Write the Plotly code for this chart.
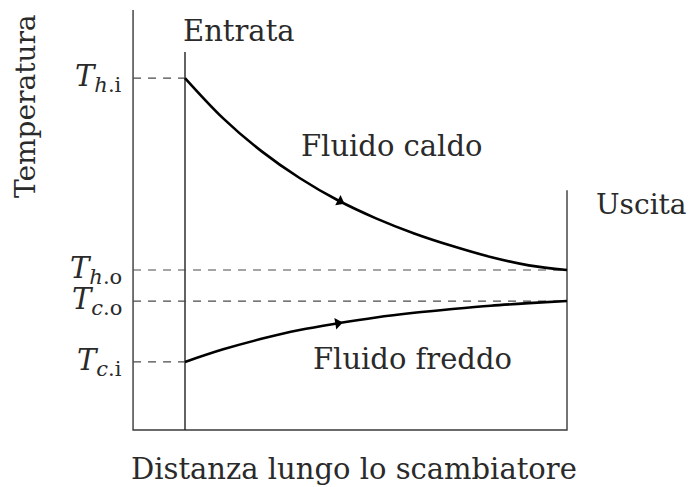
import numpy as np
import plotly.graph_objects as go

# ---- data (arbitrary temperature units) ----
dist = [0.0, 0.1, 0.2, 0.3, 0.4, 0.5, 0.6, 0.7, 0.8, 0.9, 1.0]
T_hot = [83.8, 74.2, 66.4, 60.0, 54.7, 50.4, 46.8, 43.8, 41.2, 39.2, 38.1]
T_cold = [16.2, 19.2, 21.7, 23.8, 25.4, 26.8, 27.9, 28.8, 29.6, 30.2, 30.7]
T_levels = {"Th_i": 83.8, "Th_o": 38.1, "Tc_o": 30.7, "Tc_i": 16.2}
level_labels = ["<i>T</i><sub><i>h</i>.i</sub>", "<i>T</i><sub><i>h</i>.o</sub>",
                "<i>T</i><sub><i>c</i>.o</sub>", "<i>T</i><sub><i>c</i>.i</sub>"]
arrow_pos = [0.406, 0.40]   # position of direction arrows along the exchanger
x_axis_start = -0.136        # temperature axis position
T_axis_top = 100.0
T_entrata_top = 90.0
T_uscita_top = 57.1

# ---- pixel mapping (page pixels; body margin removed below) ----
OFF = 0
W, H = 691, 487
PX_X0, PX_PER_X = 185.0, 382.0     # page pixel of dist=0, pixels per unit dist
PY_T0, PY_PER_T = 430.0, 4.2       # page pixel of T=0, pixels per unit T

def xp(px):
    return (px - PX_X0) / PX_PER_X

def yp(py):
    return (PY_T0 - py) / PY_PER_T

xr = [xp(OFF), xp(OFF + W)]
yr = [yp(OFF + H), yp(OFF)]

FONT = "DejaVu Serif"
FS = 29
TXT = "#2a2a2a"
fig = go.Figure()

# frame lines
frame = "#3a3a3a"
fig.add_trace(go.Scatter(x=[x_axis_start, x_axis_start, 1.0, 1.0],
                         y=[T_axis_top, 0, 0, T_uscita_top], mode="lines",
                         line=dict(color=frame, width=1.4), hoverinfo="skip"))
fig.add_trace(go.Scatter(x=[0, 0], y=[0, T_entrata_top], mode="lines",
                         line=dict(color="#222222", width=1.4), hoverinfo="skip"))

# dashed level lines
dash_col = "#4a4a4a"
ends = {"Th_i": 0.0, "Th_o": 1.0, "Tc_o": 1.0, "Tc_i": 0.0}
for k, v in T_levels.items():
    fig.add_trace(go.Scatter(x=[x_axis_start, ends[k]], y=[v, v], mode="lines",
                             line=dict(color=dash_col, width=1.2, dash="8px,7px"),
                             hoverinfo="skip"))

# curves
for T in (T_hot, T_cold):
    fig.add_trace(go.Scatter(x=dist, y=T, mode="lines",
                             line=dict(color="black", width=2.6, shape="spline", smoothing=1.0),
                             hoverinfo="skip"))

# arrowheads
for T, a in zip((T_hot, T_cold), arrow_pos):
    Ta = float(np.interp(a, dist, T))
    slope = np.gradient(np.array(T), np.array(dist))
    s = float(np.interp(a, dist, slope)) * PY_PER_T / PX_PER_X
    ang = -np.degrees(np.arctan(s))
    fig.add_trace(go.Scatter(x=[a], y=[Ta], mode="markers",
                             marker=dict(symbol="triangle-right", size=10, angle=ang,
                                         color="black", line=dict(width=0)),
                             hoverinfo="skip"))

def txt(text, px, py, xanchor="left", angle=0, size=FS):
    fig.add_annotation(x=xp(px), y=yp(py), text=text, showarrow=False,
                       xanchor=xanchor, yanchor="middle", textangle=angle,
                       font=dict(family=FONT, size=size, color=TXT))

txt("Entrata", 181, 31)
txt("Fluido caldo", 299, 146)
txt("Fluido freddo", 311, 359)
txt("Uscita", 594, 204, size=28)
txt("Distanza lungo lo scambiatore", 354, 469, xanchor="center")
txt("Temperatura", 25, 106, xanchor="center", angle=-90, size=28)

# level labels
for (k, v), lab in zip(T_levels.items(), level_labels):
    lab = lab.replace("<sub>", "<sub><span style='font-size:21px'>").replace("</sub>", "</span></sub>")
    fig.add_annotation(x=xp(124), y=v, text=lab, showarrow=False,
                       xanchor="right", yanchor="middle",
                       font=dict(family=FONT, size=29, color=TXT))

fig.update_layout(width=W, height=H, margin=dict(l=0, r=0, t=0, b=0),
                  paper_bgcolor="white", plot_bgcolor="white", showlegend=False,
                  hovermode=False,
                  xaxis=dict(range=xr, visible=False, fixedrange=True),
                  yaxis=dict(range=yr, visible=False, fixedrange=True))
fig.write_html("out.html", config={"displayModeBar": False, "staticPlot": True},
               post_script="document.body.style.margin='0';document.body.style.overflow='hidden';")
